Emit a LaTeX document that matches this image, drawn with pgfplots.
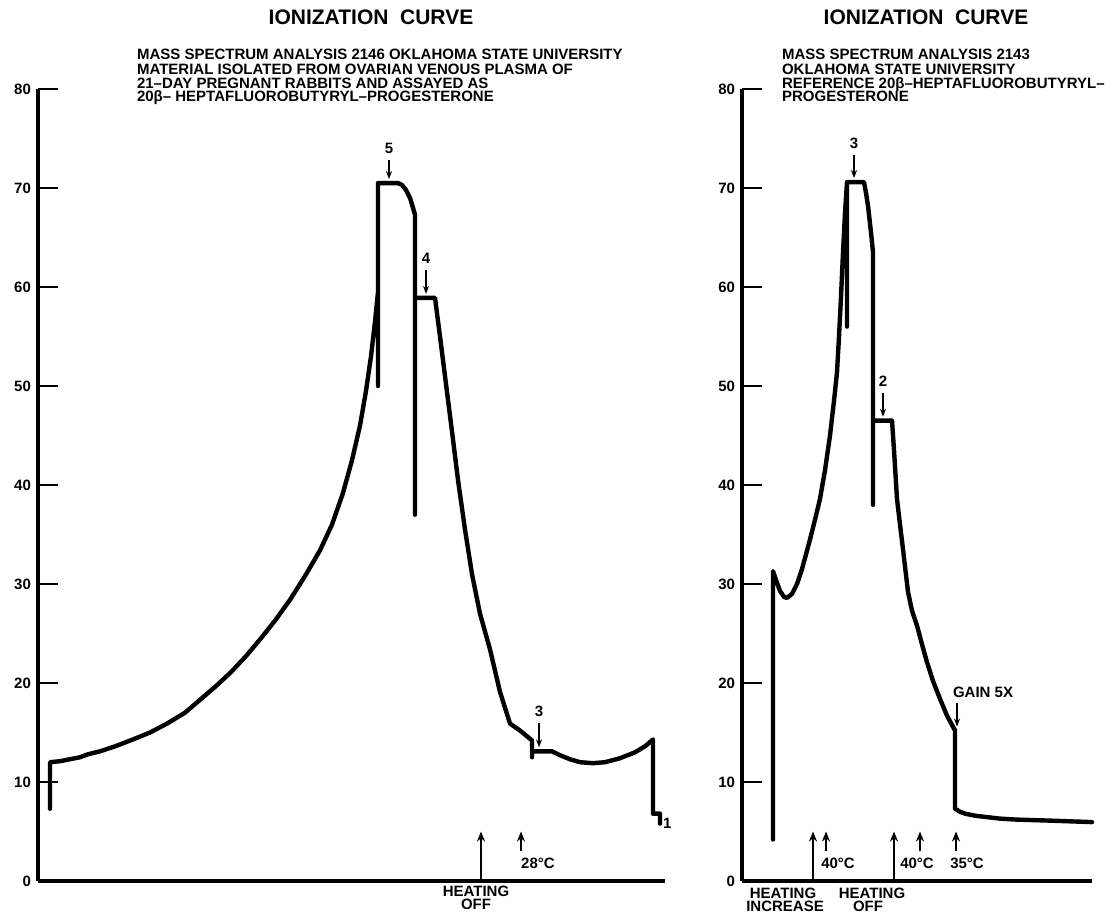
\documentclass[border=0pt]{standalone}
\usepackage{fontspec}
\setmainfont{Liberation Sans}
\usepackage{pgfplots}
\pgfplotsset{compat=1.18}
\usetikzlibrary{arrows.meta}

\newcommand{\lbl}{\bfseries\fontsize{7.5}{7.3}\selectfont}
\newcommand{\ttl}{\bfseries\fontsize{10.5}{12}\selectfont}

\pgfplotsset{
  ionization/.style={
    scale only axis, clip=false,
    height=396pt,
    ymin=0, ymax=80,
    axis x line=bottom, axis y line=left,
    axis line style={-, line width=1.8pt},
    xtick=\empty, ytick={0,10,...,80},
    tick align=inside, major tick length=10pt,
    major tick style={line width=1.1pt, black},
    /pgf/number format/assume math mode=true,
    yticklabel style={font=\bfseries\fontsize{7.5}{8}\selectfont},
  },
}
\tikzset{
  trace/.style={black, line width=2.2pt, line join=round, line cap=round},
  pk/.style={-{Stealth[length=4pt,width=3pt]}, line width=0.8pt},
  heat/.style={-{Stealth[length=5pt,width=4pt]}, line width=1pt},
}

\begin{document}
\begin{tikzpicture}
\useasboundingbox (-19pt,-17.5pt) rectangle (537pt,440.5pt);

% left panel: sample 2146
\begin{axis}[ionization, width=313.5pt, xmin=38, xmax=665]
\addplot[trace] coordinates {
  (50,7.3) (50,12.0) (60,12.1) (70,12.3) (80,12.5) (88,12.8) (100,13.1)
  (115,13.6) (133,14.3) (150,15.0) (167,15.9) (185,17.0) (200,18.3)
  (215,19.6) (230,21.0) (245,22.6) (260,24.4) (275,26.3) (290,28.4)
  (305,30.8) (320,33.4) (332,36.0) (343,39.2) (352,42.5) (360,46.0)
  (366,49.5) (371,53.0) (375,56.5) (378,59.5) (378,50.0) (378,70.5)
  (398,70.5) (402,70.3) (406,69.8) (410,69.0) (413,68.0) (415,67.3)
  (415,37.0) (415,58.9) (435,58.9) (440,55.0) (445,51.0) (450,47.0)
  (453,44.6) (458,40.5) (465,35.5) (472,31.0) (480,27.0) (490,23.4)
  (500,19.1) (510,15.9) (520,15.2) (532,14.2) (532,12.5) (532,13.1)
  (552,13.1) (560,12.7) (570,12.3) (580,12.0) (593,11.9) (605,12.0)
  (620,12.4) (635,13.0) (645,13.6) (653,14.3) (653,6.8) (660,6.8) (660,5.8)
};
\node[font=\ttl, anchor=base] at (axis cs:371,86.5) {IONIZATION\ \ CURVE};
\node[font=\lbl, anchor=base west] at (axis cs:130,82.97) {MASS SPECTRUM ANALYSIS 2146 OKLAHOMA STATE UNIVERSITY};
\node[font=\lbl, anchor=base west] at (axis cs:130,81.5) {MATERIAL ISOLATED FROM OVARIAN VENOUS PLASMA OF};
\node[font=\lbl, anchor=base west] at (axis cs:130,80.1) {21–DAY PREGNANT RABBITS AND ASSAYED AS};
\node[font=\lbl, anchor=base west] at (axis cs:130,78.7) {20β– HEPTAFLUOROBUTYRYL–PROGESTERONE};
% peak numbers
\node[font=\lbl, anchor=base] at (axis cs:389,73.5) {5};
\draw[pk] (axis cs:389,72.8) -- (axis cs:389,70.9);
\node[font=\lbl, anchor=base] at (axis cs:426,62.4) {4};
\draw[pk] (axis cs:426,61.7) -- (axis cs:426,59.3);
\node[font=\lbl, anchor=base] at (axis cs:539,16.6) {3};
\draw[pk] (axis cs:539,16.0) -- (axis cs:539,13.5);
\node[font=\lbl, anchor=west] at (axis cs:656,5.8) {1};
% heating marks
\draw[heat] (axis cs:481,0) -- (axis cs:481,5);
\draw[heat] (axis cs:521,3.0) -- (axis cs:521,5);
\node[font=\lbl] at (axis cs:538,1.8) {28°C};
\node[font=\lbl] at (axis cs:476,-1.0) {HEATING};
\node[font=\lbl] at (axis cs:476,-2.4) {OFF};
\end{axis}

% right panel: reference 2143
\begin{axis}[ionization, at={(352pt,0pt)}, width=175pt, xmin=742, xmax=1092]
\addplot[trace] coordinates {
  (773,4.2) (773,31.3) (776,30.4) (780,29.3) (784,28.7) (787,28.6)
  (792,29.0) (797,30.0) (802,31.5) (806,33.0) (810,34.5) (815,36.5)
  (820,38.6) (825,41.5) (830,45.0) (834,48.5) (837,51.4) (839,55.0)
  (841,59.0) (843,63.5) (845,67.5) (847,70.6) (847,56.0) (847,70.6)
  (864,70.6) (866,69.5) (868,68.2) (871,65.5) (873,63.5) (873,38.0)
  (873,46.5) (892,46.5) (894,43.5) (897,38.6) (900,36.0) (903,33.5)
  (908,29.2) (912,27.3) (917,25.8) (922,23.9) (927,22.1) (933,20.2)
  (940,18.4) (947,16.7) (955,15.2) (955,7.3) (960,7.0) (965,6.8)
  (975,6.6) (983,6.5) (1000,6.3) (1017,6.2) (1050,6.1) (1092,5.95)
};
\node[font=\ttl, anchor=base] at (axis cs:926,86.5) {IONIZATION\ \ CURVE};
\node[font=\lbl, anchor=base west] at (axis cs:775,82.97) {MASS SPECTRUM ANALYSIS 2143};
\node[font=\lbl, anchor=base west] at (axis cs:775,81.5) {OKLAHOMA STATE UNIVERSITY};
\node[font=\lbl, anchor=base west] at (axis cs:775,80.1) {REFERENCE 20β–HEPTAFLUOROBUTYRYL–};
\node[font=\lbl, anchor=base west] at (axis cs:775,78.7) {PROGESTERONE};
\node[font=\lbl, anchor=base] at (axis cs:854,74.0) {3};
\draw[pk] (axis cs:854,73.3) -- (axis cs:854,71.0);
\node[font=\lbl, anchor=base] at (axis cs:883,49.9) {2};
\draw[pk] (axis cs:883,49.3) -- (axis cs:883,46.9);
\node[font=\lbl] at (axis cs:983,19.1) {GAIN 5X};
\draw[pk] (axis cs:957,18.0) -- (axis cs:957,15.6);
% heating marks
\draw[heat] (axis cs:813,0) -- (axis cs:813,5);
\draw[heat] (axis cs:826,3.0) -- (axis cs:826,5);
\draw[heat] (axis cs:894,0) -- (axis cs:894,5);
\draw[heat] (axis cs:920,3.0) -- (axis cs:920,5);
\draw[heat] (axis cs:956,3.0) -- (axis cs:956,5);
\node[font=\lbl] at (axis cs:838,1.8) {40°C};
\node[font=\lbl] at (axis cs:917,1.8) {40°C};
\node[font=\lbl] at (axis cs:967,1.8) {35°C};
\node[font=\lbl] at (axis cs:783,-1.2) {HEATING};
\node[font=\lbl] at (axis cs:785,-2.6) {INCREASE};
\node[font=\lbl] at (axis cs:872,-1.2) {HEATING};
\node[font=\lbl] at (axis cs:868,-2.6) {OFF};
\end{axis}
\end{tikzpicture}
\end{document}
